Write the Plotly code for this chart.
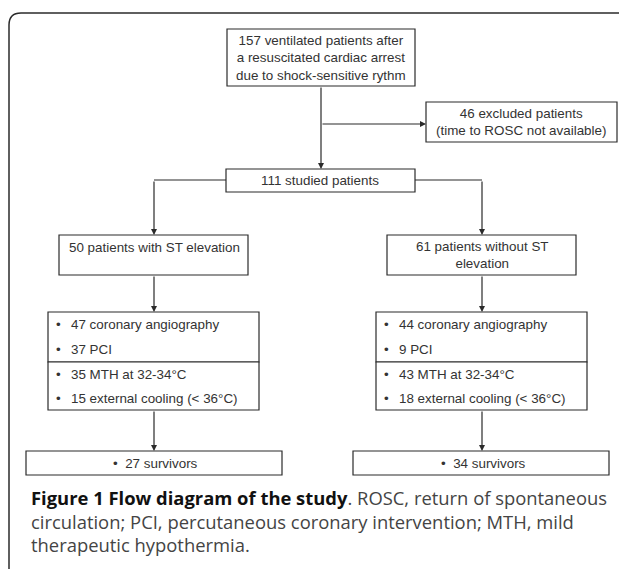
import plotly.graph_objects as go

# counts shown in the flow diagram
total_ventilated = 157
excluded = 46
studied = 111
st_groups = ['with ST elevation', 'without ST<br>elevation']
st_counts = [50, 61]
angiography = [47, 44]
pci = [37, 9]
mth = [35, 43]
external_cooling = [15, 18]
survivors = [27, 34]

LINE = '#2b2b2b'
TEXT = '#333333'
BOX_FONT = dict(family='Liberation Sans, Arial', size=13.4, color=TEXT)

W, H = 627, 569
OFF = 8  # the page body has an 8px margin; shift the axes so data units = screen pixels

fig = go.Figure()
fig.add_trace(go.Scatter(x=[OFF, W + OFF], y=[OFF, H + OFF], mode='markers', marker=dict(opacity=0),
                         hoverinfo='skip', showlegend=False))

shapes = []
annotations = []


def box(x0, y0, x1, y1):
    shapes.append(dict(type='rect', x0=x0, y0=y0, x1=x1, y1=y1,
                       line=dict(color=LINE, width=1.2), fillcolor='white', layer='below'))


def line(pts):
    path = 'M ' + ' L '.join(f'{x},{y}' for x, y in pts)
    shapes.append(dict(type='path', path=path, line=dict(color=LINE, width=1.2)))


def arrow(x0, y0, x1, y1):
    annotations.append(dict(x=x1, y=y1, ax=x0, ay=y0, xref='x', yref='y', axref='x', ayref='y',
                            text='', showarrow=True, arrowhead=2, arrowsize=1, arrowwidth=1.2,
                            arrowcolor=LINE, standoff=0))


def label(x, y, text, anchor='center', font=BOX_FONT):
    annotations.append(dict(x=x, y=y, xref='x', yref='y', text=text, showarrow=False,
                            xanchor=anchor, yanchor='middle', font=font, align='center'))


# outer frame (open at the bottom, cut on the right)
shapes.append(dict(type='path', path=f'M 9,{H + 5} L 9,25 Q 9,13 21,13 L 621,13 Q 626,13 627,17',
                   line=dict(color=LINE, width=1.5)))

# top box
box(227, 29, 415, 86)
label(321, 58, f'{total_ventilated} ventilated patients after<br>a resuscitated cardiac arrest<br>due to shock-sensitive rythm')

# excluded box
box(426, 102, 617, 142)
label(521, 122, f'{excluded} excluded patients<br>(time to ROSC not available)')
arrow(321, 124, 426, 124)

# studied
arrow(321, 86, 321, 169)
box(226, 169, 415, 192)
label(320, 180.5, f'{studied} studied patients')

cols = [154, 482]
group_boxes = [(59, 248), (387, 576)]
detail_boxes = [(48, 259), (376, 587)]
surv_boxes = [(26, 282), (353, 609)]

line([(226, 180), (154, 180)])
line([(415, 180), (482, 180)])

for i, cx in enumerate(cols):
    arrow(cx, 180, cx, 235)
    gx0, gx1 = group_boxes[i]
    box(gx0, 235, gx1, 275)
    if i == 0:
        label(cx, 247, f'{st_counts[i]} patients {st_groups[i]}')
    else:
        label(cx, 255, f'{st_counts[i]} patients {st_groups[i]}')

    arrow(cx, 275, cx, 312)
    dx0, dx1 = detail_boxes[i]
    box(dx0, 312, dx1, 362)
    box(dx0, 362, dx1, 410)
    items = [f'{angiography[i]} coronary angiography', f'{pci[i]} PCI',
             f'{mth[i]} MTH at 32-34°C', f'{external_cooling[i]} external cooling (< 36°C)']
    for yy, txt in zip([324, 349, 374, 398], items):
        label(dx0 + 10, yy, '•', anchor='center')
        label(dx0 + 21, yy, txt, anchor='left')

    arrow(cx, 410, cx, 451)
    sx0, sx1 = surv_boxes[i]
    box(sx0, 451, sx1, 475)
    label(cx + 1, 463, f'•  {survivors[i]} survivors')

# caption
CAP = dict(family='Open Sans', size=18.4, color='#444444')
caption = ['<b style="color:#111">Figure 1 Flow diagram of the study</b>. ROSC, return of spontaneous',
           'circulation; PCI, percutaneous coronary intervention; MTH, mild',
           'therapeutic hypothermia.']
for yy, txt in zip([497, 521, 544], caption):
    label(29, yy, txt, anchor='left', font=CAP)

fig.update_layout(
    width=W, height=H,
    margin=dict(l=0, r=0, t=0, b=0),
    paper_bgcolor='white', plot_bgcolor='white',
    xaxis=dict(range=[OFF, W + OFF], visible=False, fixedrange=True),
    yaxis=dict(range=[H + OFF, OFF], visible=False, fixedrange=True),
    shapes=shapes, annotations=annotations,
    showlegend=False,
)

fig.write_html("out.html")
